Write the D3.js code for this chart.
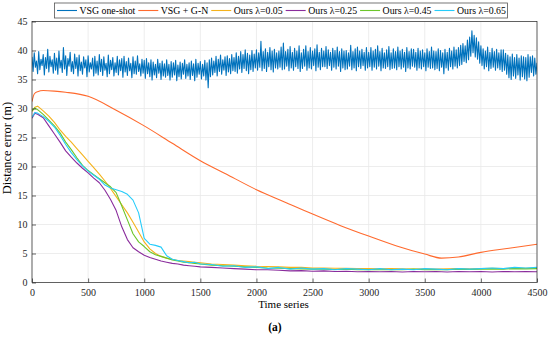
<!DOCTYPE html>
<html>
<head>
<meta charset="utf-8">
<script src="https://cdn.jsdelivr.net/npm/d3@7"></script>
<style>
  body { margin: 0; background: #fff; }
</style>
</head>
<body>
<svg id="chart"></svg>
<script>
// Chart size and plot box
const width = 550;
const height = 337;
const margin = { top: 21.5, right: 13, bottom: 54.5, left: 32 };
const serif = "'Liberation Serif', 'Times New Roman', serif";

// Tick labels
const xTicks = [0, 500, 1000, 1500, 2000, 2500, 3000, 3500, 4000, 4500];
const yTicks = [0, 5, 10, 15, 20, 25, 30, 35, 40, 45];

// Legend labels and colours
const seriesNames = ["VSG one-shot", "VSG + G-N", "Ours \u03bb=0.05", "Ours \u03bb=0.25", "Ours \u03bb=0.45", "Ours \u03bb=0.65"];
const seriesColors = ["#0072BD", "#FF6A2E", "#F5B21C", "#8A2C9C", "#6CC62A", "#26CCFA"];

// VSG one-shot, one value every 10 steps
const vsgStep = 10;
const vsgOneShot = [
  38.9, 36.4, 39.6, 37.1, 38.2, 36.0, 39.8, 36.7, 38.5, 37.4, 39.3, 35.8, 38.8, 36.9, 40.2, 36.3, 39.0, 37.2, 38.4, 36.1,
  39.5, 36.6, 38.7, 35.9, 39.9, 37.0, 38.3, 36.2, 40.5, 36.8, 39.1, 35.7, 38.6, 37.3, 39.7, 36.4, 38.1, 36.0, 39.4, 36.9,
  38.8, 35.6, 39.2, 36.5, 38.0, 35.9, 38.9, 37.0, 38.4, 35.5, 39.1, 36.3, 37.9, 36.8, 38.7, 35.6, 39.0, 36.1, 38.2, 35.8,
  39.3, 36.4, 38.5, 35.7, 38.9, 36.6, 37.8, 35.5, 39.2, 36.0, 38.3, 36.7, 38.8, 35.6, 37.9, 36.2, 39.0, 35.8, 38.4, 36.5,
  38.6, 35.4, 39.0, 36.3, 38.1, 35.7, 38.7, 36.5, 37.8, 35.3, 38.9, 36.0, 38.2, 35.9, 39.1, 36.4, 37.7, 35.6, 38.5, 36.1,
  38.3, 35.2, 38.6, 36.0, 37.9, 35.5, 38.4, 34.9, 38.0, 35.8, 37.6, 35.3, 38.5, 36.1, 37.8, 35.0, 38.2, 35.6, 37.7, 35.4,
  38.4, 35.7, 37.6, 34.9, 38.1, 35.4, 37.9, 35.8, 38.3, 34.8, 37.5, 35.5, 38.0, 35.1, 37.8, 35.9, 38.4, 35.2, 37.6, 35.6,
  37.9, 35.0, 38.2, 35.7, 37.7, 34.8, 38.5, 35.4, 37.8, 35.9, 38.1, 35.1, 37.6, 35.6, 38.3, 34.9, 37.9, 33.6, 38.4, 35.5,
  38.7, 35.8, 38.2, 36.2, 39.0, 35.6, 38.5, 36.4, 39.2, 35.9, 38.4, 36.6, 38.9, 35.7, 39.1, 36.3, 38.6, 36.0, 39.3, 36.5,
  38.8, 36.4, 39.6, 36.1, 39.0, 36.8, 39.8, 36.2, 39.3, 36.9, 40.1, 36.5, 39.5, 36.0, 39.2, 36.7, 40.0, 36.4, 39.4, 37.0,
  40.1, 36.6, 39.6, 37.1, 41.6, 36.5, 39.8, 36.9, 40.3, 36.4, 39.7, 37.2, 40.5, 36.7, 39.9, 36.3, 40.2, 37.0, 39.6, 36.8,
  39.9, 37.1, 40.6, 36.7, 41.3, 36.8, 39.8, 37.3, 40.2, 36.5, 40.7, 37.0, 39.7, 36.6, 40.4, 37.2, 39.9, 36.9, 40.8, 36.4,
  39.6, 36.9, 40.2, 37.3, 40.8, 36.6, 39.8, 37.0, 40.5, 36.8, 39.9, 37.4, 40.3, 36.5, 41.0, 37.1, 39.7, 36.7, 40.4, 37.2,
  39.9, 37.2, 40.7, 36.9, 40.1, 37.4, 39.7, 36.6, 40.4, 37.1, 40.0, 36.8, 40.6, 37.3, 39.8, 36.4, 40.3, 37.0, 39.9, 36.7,
  40.0, 36.8, 39.6, 37.3, 40.9, 36.7, 39.8, 37.0, 40.3, 36.5, 40.6, 37.2, 39.9, 36.9, 40.2, 37.4, 39.7, 36.6, 40.5, 37.0,
  39.7, 37.2, 40.5, 36.6, 39.9, 37.1, 40.2, 36.8, 40.8, 37.3, 39.8, 36.5, 40.4, 37.0, 39.6, 36.9, 40.1, 37.2, 40.7, 36.7,
  39.6, 36.9, 40.3, 37.0, 39.8, 36.7, 40.6, 37.2, 39.9, 36.8, 40.2, 37.1, 39.7, 36.4, 40.5, 37.0, 39.8, 36.8, 40.3, 37.3,
  40.2, 37.1, 39.7, 36.6, 40.4, 37.0, 39.9, 36.8, 40.1, 37.2, 39.6, 36.5, 40.3, 37.1, 39.8, 36.9, 40.6, 37.0, 39.9, 36.7,
  39.8, 36.9, 40.3, 36.5, 40.0, 37.1, 39.6, 36.0, 40.2, 37.0, 39.7, 36.6, 40.4, 37.2, 39.9, 36.8, 40.6, 37.3, 40.1, 37.0,
  40.5, 37.4, 40.9, 37.6, 41.2, 38.1, 40.8, 37.9, 41.8, 38.4, 42.3, 39.0, 43.4, 39.6, 42.6, 38.9, 42.2, 38.5, 41.5, 37.8,
  40.8, 37.4, 40.3, 36.8, 39.9, 37.2, 40.6, 36.5, 39.7, 36.9, 40.4, 37.1, 39.8, 36.6, 40.2, 37.0, 39.6, 36.7, 40.1, 36.4,
  40.1, 36.6, 39.5, 35.9, 39.2, 35.3, 38.9, 35.0, 39.4, 35.6, 38.8, 35.2, 39.3, 35.8, 38.7, 34.9, 39.1, 35.5, 38.9, 35.1,
  38.8, 34.8, 39.3, 35.4, 38.9, 36.2, 39.1, 35.6, 38.7, 35.9, 37.9
];

// VSG + G-N
const gnTime = [0, 20, 50, 100, 200, 300, 500, 750, 1000, 1250, 1500, 1750, 2000, 2250,
  2500, 2750, 3000, 3250, 3500, 3650, 3800, 4000, 4250, 4500];
const gnValues = [31.2, 32.5, 32.9, 33.1, 33.0, 32.8, 32.1, 29.7, 27.0, 24.0, 21.0, 18.5, 16.0, 13.9,
  11.8, 9.8, 8.0, 6.3, 4.9, 4.2, 4.4, 5.2, 5.9, 6.6];

// Ours, shared time samples
const oursTime = [0, 25, 50, 100, 150, 200, 250, 300, 350, 400, 450, 500, 550, 600, 650, 700,
  750, 800, 850, 900, 950, 1000, 1050, 1100, 1150, 1200, 1250, 1300, 1350, 1400, 1450, 1500,
  1600, 1700, 1800, 1900, 2000, 2100, 2200, 2300, 2400, 2500, 2600, 2700, 2800, 2900, 3000,
  3100, 3200, 3300, 3400, 3500, 3600, 3700, 3800, 3900, 4000, 4100, 4200, 4300, 4400, 4500];

const ours005 = [29.5, 30.2, 30.4, 29.6, 28.7, 27.6, 26.3, 25.2, 24.2, 23.1, 22.0, 20.9, 19.8, 18.7, 17.5, 16.2,
  14.8, 13.4, 12.0, 10.4, 8.7, 7.0, 5.8, 5.0, 4.5, 4.2, 4.0, 3.8, 3.7, 3.6, 3.5, 3.4,
  3.2, 3.1, 3.0, 2.9, 2.8, 2.75, 2.7, 2.6, 2.6, 2.5, 2.5, 2.45, 2.45, 2.4, 2.4,
  2.35, 2.4, 2.35, 2.3, 2.35, 2.3, 2.35, 2.4, 2.35, 2.4, 2.45, 2.4, 2.5, 2.45, 2.5];

const ours025 = [28.3, 29.2, 29.0, 28.4, 27.0, 25.6, 24.2, 22.7, 21.6, 20.6, 19.7, 18.9, 18.0, 17.2, 15.9, 14.3,
  12.4, 9.6, 7.4, 6.0, 5.3, 4.7, 4.3, 4.0, 3.7, 3.5, 3.3, 3.2, 3.0, 2.9, 2.8, 2.7,
  2.6, 2.5, 2.4, 2.3, 2.2, 2.2, 2.1, 2.0, 2.05, 1.95, 2.0, 1.9, 1.95, 1.85, 1.9,
  1.85, 1.9, 1.8, 1.9, 1.85, 1.9, 1.8, 1.9, 1.85, 1.9, 1.8, 1.9, 1.85, 1.9, 1.85];

const ours045 = [29.6, 30.1, 29.8, 29.0, 28.0, 27.0, 25.8, 24.2, 22.9, 21.5, 20.2, 19.3, 18.6, 17.9, 17.2, 16.5,
  15.5, 13.2, 10.8, 8.4, 7.0, 6.2, 5.3, 4.8, 4.5, 4.2, 3.9, 3.7, 3.5, 3.4, 3.3, 3.2,
  3.0, 2.9, 2.8, 2.7, 2.6, 2.5, 2.45, 2.4, 2.35, 2.3, 2.3, 2.25, 2.3, 2.2, 2.25,
  2.2, 2.25, 2.2, 2.3, 2.2, 2.25, 2.2, 2.3, 2.25, 2.3, 2.35, 2.3, 2.4, 2.35, 2.4];

const ours065 = [28.5, 29.3, 29.2, 28.6, 27.8, 26.8, 25.4, 23.8, 22.4, 21.2, 20.1, 19.2, 18.5, 17.8, 16.8, 16.3,
  16.0, 15.7, 15.2, 14.2, 12.0, 7.6, 6.6, 6.4, 6.1, 4.6, 4.0, 3.8, 3.6, 3.4, 3.5, 3.2,
  3.1, 2.8, 2.9, 2.6, 2.7, 2.4, 2.6, 2.3, 2.5, 2.3, 2.4, 2.2, 2.4, 2.3, 2.2,
  2.4, 2.2, 2.3, 2.2, 2.4, 2.3, 2.2, 2.4, 2.3, 2.4, 2.5, 2.4, 2.6, 2.5, 2.6];

const svg = d3.select("#chart")
  .attr("width", width)
  .attr("height", height);

const plotW = width - margin.left - margin.right;
const plotH = height - margin.top - margin.bottom;

const x = d3.scaleLinear().domain([0, 4500]).range([margin.left, margin.left + plotW]);
const y = d3.scaleLinear().domain([0, 45]).range([margin.top + plotH, margin.top]);

// grid
svg.append("g")
  .selectAll("line")
  .data(xTicks)
  .enter().append("line")
  .attr("x1", d => x(d)).attr("x2", d => x(d))
  .attr("y1", margin.top).attr("y2", margin.top + plotH)
  .attr("stroke", "#e8e8e8").attr("stroke-width", 0.8);
svg.append("g")
  .selectAll("line")
  .data(yTicks)
  .enter().append("line")
  .attr("x1", margin.left).attr("x2", margin.left + plotW)
  .attr("y1", d => y(d)).attr("y2", d => y(d))
  .attr("stroke", "#e8e8e8").attr("stroke-width", 0.8);

// lines
svg.append("clipPath").attr("id", "plot-clip")
  .append("rect")
  .attr("x", margin.left).attr("y", margin.top)
  .attr("width", plotW).attr("height", plotH);

const lineGen = d3.line().x(d => x(d[0])).y(d => y(d[1]));
const smoothLine = d3.line().x(d => x(d[0])).y(d => y(d[1])).curve(d3.curveMonotoneX);

const allSeries = [
  { pts: vsgOneShot.map((v, i) => [i * vsgStep, v]), gen: lineGen, w: 1.1 },
  { pts: gnTime.map((t, i) => [t, gnValues[i]]), gen: smoothLine, w: 1.1 },
  { pts: oursTime.map((t, i) => [t, ours005[i]]), gen: lineGen, w: 1.1 },
  { pts: oursTime.map((t, i) => [t, ours025[i]]), gen: lineGen, w: 1.1 },
  { pts: oursTime.map((t, i) => [t, ours045[i]]), gen: lineGen, w: 1.1 },
  { pts: oursTime.map((t, i) => [t, ours065[i]]), gen: lineGen, w: 1.1 }
];

const lines = svg.append("g").attr("clip-path", "url(#plot-clip)");
allSeries.forEach((s, i) => {
  lines.append("path")
    .datum(s.pts)
    .attr("fill", "none")
    .attr("stroke", seriesColors[i])
    .attr("stroke-width", s.w)
    .attr("stroke-linejoin", "round")
    .attr("d", s.gen);
});

// axes (ticks inside, like MATLAB)
const axisColor = "#262626";
const xAxis = svg.append("g")
  .attr("transform", `translate(0,${margin.top + plotH})`)
  .call(d3.axisBottom(x).tickValues(xTicks).tickSizeInner(-4).tickSizeOuter(0).tickPadding(6.5).tickFormat(d3.format("d")));
const yAxis = svg.append("g")
  .attr("transform", `translate(${margin.left},0)`)
  .call(d3.axisLeft(y).tickValues(yTicks).tickSizeInner(-4).tickSizeOuter(0).tickPadding(4.5));

[xAxis, yAxis].forEach(a => {
  a.attr("font-family", null).attr("font-size", null);
  a.select(".domain").remove();
  a.selectAll("line").attr("stroke", axisColor).attr("stroke-width", 0.7);
  a.selectAll("text")
    .attr("fill", "#262626")
    .style("font-family", serif)
    .style("font-size", "10px");
});

// plot box
svg.append("rect")
  .attr("x", margin.left).attr("y", margin.top)
  .attr("width", plotW).attr("height", plotH)
  .attr("fill", "none")
  .attr("stroke", axisColor)
  .attr("stroke-width", 0.7);

// axis labels
svg.append("text")
  .attr("x", margin.left + plotW / 2 - 1)
  .attr("y", 308)
  .attr("text-anchor", "middle")
  .style("font-family", serif)
  .style("font-size", "11px")
  .attr("fill", "#000")
  .text("Time series");

svg.append("text")
  .attr("transform", "translate(11,148) rotate(-90)")
  .attr("text-anchor", "middle")
  .style("font-family", serif)
  .style("font-size", "12.5px")
  .attr("fill", "#000")
  .text("Distance error (m)");

svg.append("text")
  .attr("x", 275)
  .attr("y", 331)
  .attr("text-anchor", "middle")
  .style("font-family", serif)
  .style("font-size", "11.5px")
  .style("font-weight", "bold")
  .attr("fill", "#000")
  .text("(a)");

// legend
const legend = svg.append("g");
const legendBox = legend.append("rect")
  .attr("fill", "#fff")
  .attr("stroke", "#555")
  .attr("stroke-width", 0.8);

let cursor = 57;
const legY = 10.5;
seriesNames.forEach((name, i) => {
  legend.append("line")
    .attr("x1", cursor).attr("x2", cursor + 20)
    .attr("y1", legY).attr("y2", legY)
    .attr("stroke", seriesColors[i])
    .attr("stroke-width", 1.1);
  const t = legend.append("text")
    .attr("x", cursor + 22.5)
    .attr("y", legY + 3.4)
    .style("font-family", serif)
    .style("font-size", "9.8px")
    .attr("fill", "#000")
    .text(name);
  cursor += 22.5 + t.node().getComputedTextLength() + 3;
});
legendBox
  .attr("x", 54.5).attr("y", 3)
  .attr("width", cursor - 54.5 - 1.5).attr("height", 15);
</script>
</body>
</html>
